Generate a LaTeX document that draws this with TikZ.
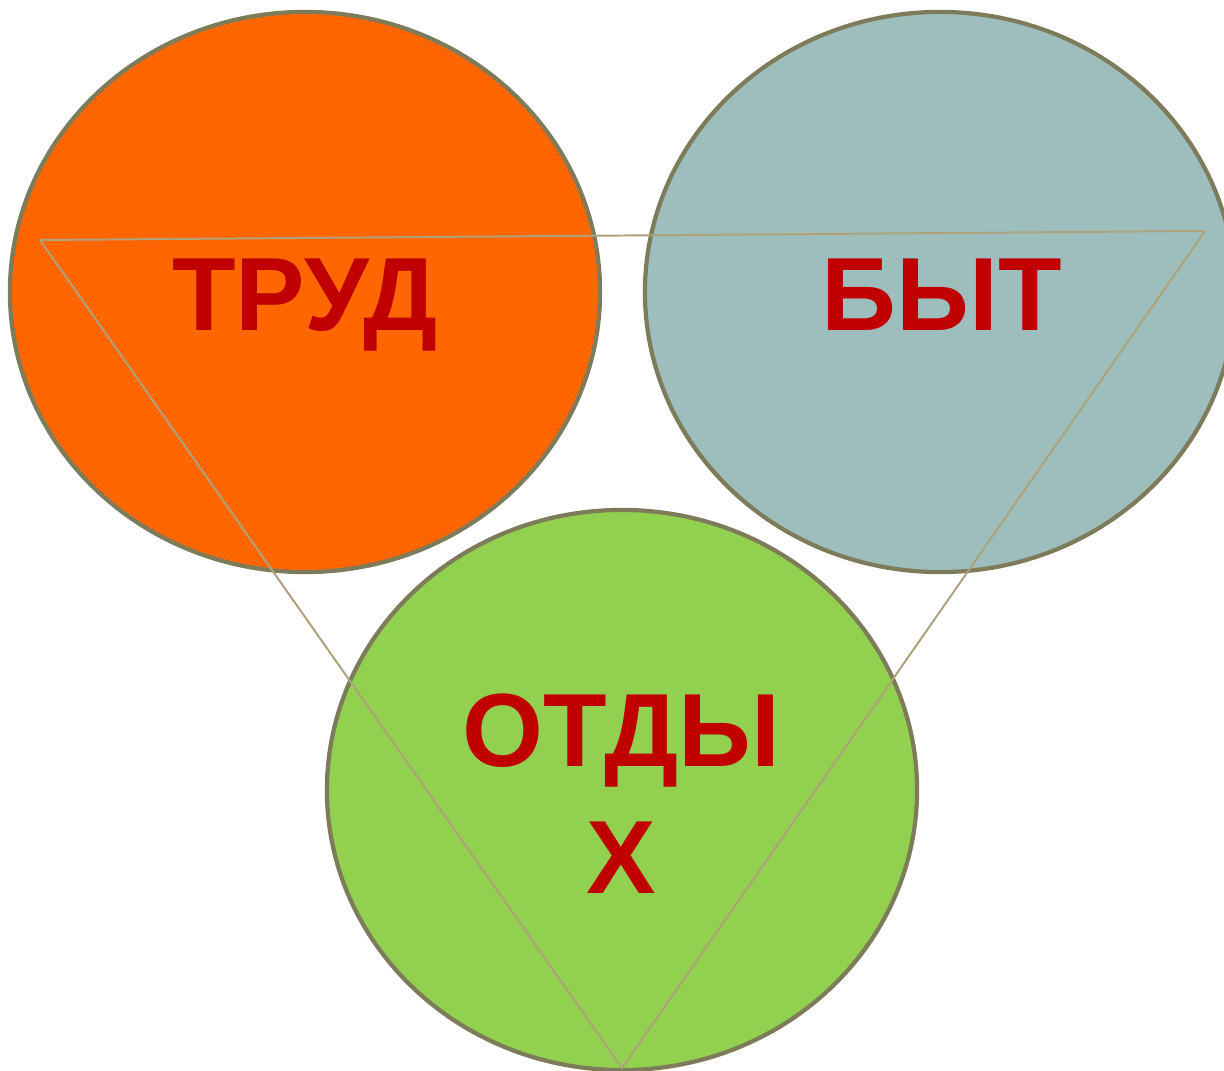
\documentclass[tikz,border=0pt]{standalone}
\usepackage{fontspec}
\setmainfont{Liberation Sans}
\usepackage{tikz}
\usetikzlibrary{shapes.geometric}
\definecolor{trudorange}{HTML}{FF6600}
\definecolor{bytgray}{HTML}{9DBEBD}
\definecolor{otdyhgreen}{HTML}{92D050}
\definecolor{rimolive}{HTML}{7D7B59}
\definecolor{lineolive}{HTML}{ADA27A}
\definecolor{wordred}{HTML}{C00000}

\begin{document}
\begin{tikzpicture}[x=0.025cm,y=-0.025cm,
  sphere/.style={ellipse,draw=rimolive,line width=3pt,minimum width=14.75cm,minimum height=14cm,inner sep=0pt},
  word/.style={anchor=base,text=wordred,font=\bfseries\fontsize{74}{90}\selectfont,align=center,inner sep=0pt}]
\useasboundingbox (0,0) rectangle (1224,1071);
\node[sphere,fill=trudorange] (trud) at (305,292) {};
\node[sphere,fill=bytgray] (byt) at (940,292) {};
\node[sphere,fill=otdyhgreen] (otdyh) at (622,790) {};
% triangle
\coordinate (a) at (40,240);
\coordinate (b) at (1205,231);
\coordinate (c) at (622,1068);
\draw[lineolive,line width=1.4pt] (a) -- (b) (a) -- (c) -- (b);
\node[word] (trudtext) at (305,330) {ТРУД};
\node[word] (byttext) at (942,330) {БЫТ};
\node[word] (otdyhtext) at (621,893) {ОТДЫ\\Х};
\end{tikzpicture}
\end{document}
